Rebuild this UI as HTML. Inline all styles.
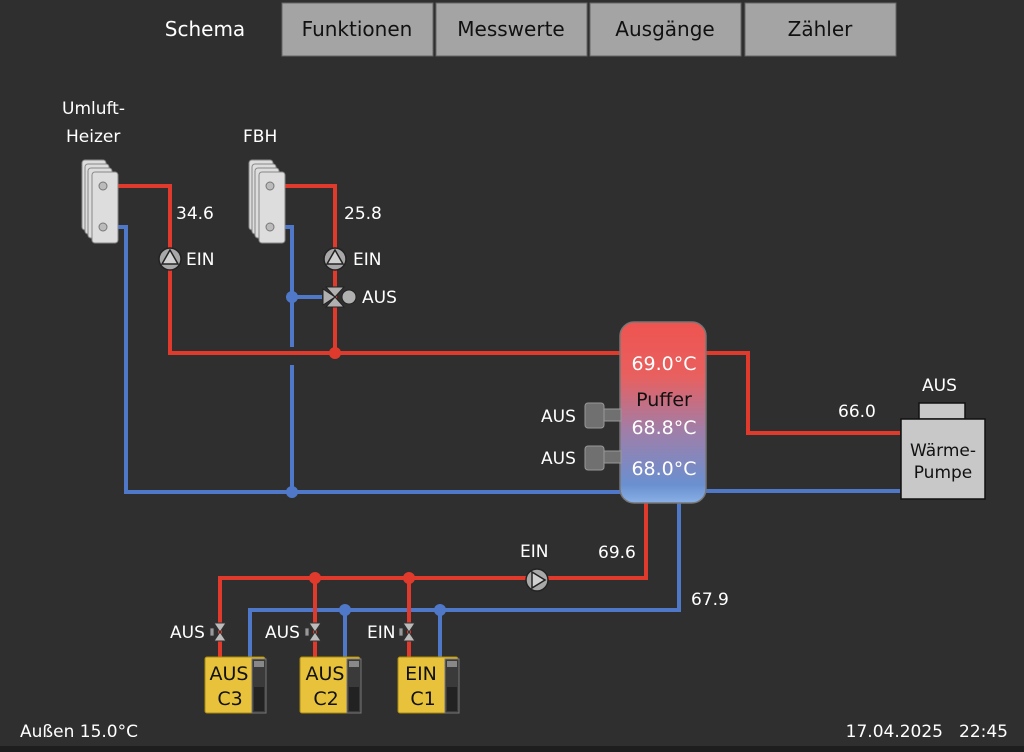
<!DOCTYPE html>
<html><head><meta charset="utf-8"><style>
html,body{margin:0;padding:0;background:#2f2f2f;width:1024px;height:752px;overflow:hidden}
svg{display:block}
text{font-family:"DejaVu Sans","Liberation Sans",sans-serif;}
</style></head><body>
<svg width="1024" height="752" viewBox="0 0 1024 752" xmlns="http://www.w3.org/2000/svg">
<defs>
<linearGradient id="tank" x1="0" y1="0" x2="0" y2="1">
<stop offset="0" stop-color="#ee5450"/><stop offset="0.3" stop-color="#e8605f"/>
<stop offset="0.6" stop-color="#a07ea8"/><stop offset="0.9" stop-color="#6a90d0"/><stop offset="1" stop-color="#8ab0e6"/>
</linearGradient>
<g id="rad">
<rect x="0" y="0" width="24" height="70" rx="3" fill="#ddd" stroke="#888" stroke-width="1"/>
<rect x="3" y="4" width="24" height="70" rx="3" fill="#ddd" stroke="#888" stroke-width="1"/>
<rect x="6" y="8" width="24" height="70" rx="3" fill="#ddd" stroke="#888" stroke-width="1"/>
<rect x="10" y="12" width="26" height="71" rx="3" fill="#ddd" stroke="#888" stroke-width="1"/>
<circle cx="21" cy="26" r="4" fill="#bbb" stroke="#777"/>
<circle cx="21" cy="67" r="4" fill="#bbb" stroke="#777"/>
</g>
<g id="pumpU">
<circle r="11" fill="#a8a8a8" stroke="#222" stroke-width="1.5"/>
<path d="M0,-9 L8,5 L-8,5 Z" fill="#d0d0d0" stroke="#222" stroke-width="1.5"/>
</g>
<g id="hv">
<path d="M-6,-9 L6,-9 L0,0 Z M-6,9 L6,9 L0,0 Z" fill="#bbb" stroke="#333" stroke-width="1"/>
<rect x="-10" y="-4" width="4" height="8" fill="#999" stroke="#333" stroke-width="0.8"/>
</g>
<g id="comp">
<rect x="0" y="0" width="60" height="56" rx="2" fill="#e8c23a" stroke="#a88a10"/>
<rect x="47" y="2" width="14" height="54" fill="#3a3a3a" stroke="#777"/>
<rect x="49" y="4" width="10" height="6" fill="#888"/>
<rect x="49" y="30" width="10" height="24" fill="#222"/>
</g>
</defs>

<!-- tabs -->
<text x="205" y="36" font-size="20" fill="#fff" text-anchor="middle">Schema</text>
<g font-size="20" fill="#111" text-anchor="middle">
<rect x="282" y="3" width="151" height="53" fill="#a4a4a4" stroke="#666"/>
<text x="357" y="36">Funktionen</text>
<rect x="436" y="3" width="151" height="53" fill="#a4a4a4" stroke="#666"/>
<text x="511" y="36">Messwerte</text>
<rect x="590" y="3" width="151" height="53" fill="#a4a4a4" stroke="#666"/>
<text x="665" y="36">Ausgänge</text>
<rect x="745" y="3" width="151" height="53" fill="#a4a4a4" stroke="#666"/>
<text x="820" y="36">Zähler</text>
</g>

<!-- pipes blue -->
<g fill="none" stroke="#4f78c8" stroke-width="4">
<polyline points="103,227 126,227 126,492 620,492"/>
<polyline points="272,227 292,227 292,347"/>
<line x1="292" y1="365" x2="292" y2="492"/>
<line x1="292" y1="297" x2="322" y2="297"/>
<line x1="706" y1="491" x2="900" y2="491"/>
<polyline points="679,503 679,610 250,610 250,658"/>
<line x1="345" y1="610" x2="345" y2="658"/>
<line x1="440" y1="610" x2="440" y2="658"/>
</g>
<!-- pipes red -->
<g fill="none" stroke="#e03a2c" stroke-width="4">
<polyline points="103,186 170,186 170,353 620,353"/>
<polyline points="272,186 335,186 335,353"/>
<polyline points="706,353 748,353 748,433 900,433"/>
<polyline points="646,503 646,578 220,578 220,658"/>
<line x1="315" y1="578" x2="315" y2="658"/>
<line x1="409" y1="578" x2="409" y2="658"/>
</g>
<g fill="#4f78c8"><circle cx="292" cy="297" r="6"/><circle cx="292" cy="492" r="6"/><circle cx="345" cy="610" r="6"/><circle cx="440" cy="610" r="6"/></g>
<g fill="#e03a2c"><circle cx="335" cy="353" r="6"/><circle cx="315" cy="578" r="6"/><circle cx="409" cy="578" r="6"/></g>

<!-- radiators -->
<use href="#rad" x="82" y="160"/>
<use href="#rad" x="249" y="160"/>
<g font-size="17" fill="#fff">
<text x="62" y="114">Umluft-</text>
<text x="66" y="142">Heizer</text>
<text x="243" y="142">FBH</text>
<text x="176" y="219">34.6</text>
<text x="344" y="219">25.8</text>
<text x="186" y="265">EIN</text>
<text x="353" y="265">EIN</text>
<text x="362" y="303">AUS</text>
</g>
<use href="#pumpU" x="170" y="259"/>
<use href="#pumpU" x="335" y="259"/>
<g stroke="#222" stroke-width="1" fill="#b0b0b0">
<path d="M326,287 L344,287 L335,297 Z M326,307 L344,307 L335,297 Z M323,289 L323,305 L335,297 Z"/>
<circle cx="349" cy="297" r="7" fill="#b0b0b0"/>
</g>

<!-- tank -->
<rect x="620" y="322" width="86" height="181" rx="14" fill="url(#tank)" stroke="#777" stroke-width="1.5"/>
<g font-size="19" fill="#fff" text-anchor="middle">
<text x="664" y="370">69.0°C</text>
<text x="664" y="434">68.8°C</text>
<text x="664" y="475">68.0°C</text>
</g>
<text x="664" y="406" font-size="19" fill="#111" text-anchor="middle">Puffer</text>
<g fill="#707070" stroke="#999" stroke-width="1">
<rect x="603" y="409" width="18" height="12"/><rect x="585" y="403" width="19" height="25" rx="3"/>
<rect x="603" y="451" width="18" height="12"/><rect x="585" y="446" width="19" height="24" rx="3"/>
</g>
<g font-size="17" fill="#fff">
<text x="541" y="422">AUS</text>
<text x="541" y="464">AUS</text>
<text x="838" y="417">66.0</text>
<text x="922" y="391">AUS</text>
<text x="520" y="557">EIN</text>
<text x="598" y="558">69.6</text>
<text x="691" y="605">67.9</text>
<text x="170" y="638">AUS</text>
<text x="265" y="638">AUS</text>
<text x="367" y="638">EIN</text>
</g>
<!-- heat pump -->
<rect x="919" y="403" width="46" height="16" fill="#c8c8c8" stroke="#111" stroke-width="1.5"/>
<rect x="901" y="419" width="84" height="80" fill="#c8c8c8" stroke="#111" stroke-width="1.5"/>
<g font-size="17" fill="#111" text-anchor="middle"><text x="943" y="456">Wärme-</text><text x="943" y="478">Pumpe</text></g>

<!-- lower pump -->
<circle cx="537" cy="580" r="11" fill="#a8a8a8" stroke="#222" stroke-width="1.5"/>
<path d="M532,572 L545,580 L532,588 Z" fill="#d0d0d0" stroke="#222" stroke-width="1.5"/>
<use href="#hv" x="220" y="632"/>
<use href="#hv" x="315" y="632"/>
<use href="#hv" x="409" y="632"/>
<use href="#comp" x="205" y="657"/>
<use href="#comp" x="300" y="657"/>
<use href="#comp" x="398" y="657"/>
<g font-size="19" fill="#111" text-anchor="middle">
<text x="229" y="680">AUS</text><text x="230" y="705">C3</text>
<text x="325" y="680">AUS</text><text x="326" y="705">C2</text>
<text x="421" y="680">EIN</text><text x="423" y="705">C1</text>
</g>

<!-- footer -->
<text x="20" y="737" font-size="17" fill="#fff">Außen 15.0°C</text>
<text x="943" y="737" font-size="17" fill="#fff" text-anchor="end">17.04.2025</text>
<text x="1008" y="737" font-size="17" fill="#fff" text-anchor="end">22:45</text>
<rect x="0" y="746" width="1024" height="6" fill="#1e1e1e"/>
</svg>
</body></html>
